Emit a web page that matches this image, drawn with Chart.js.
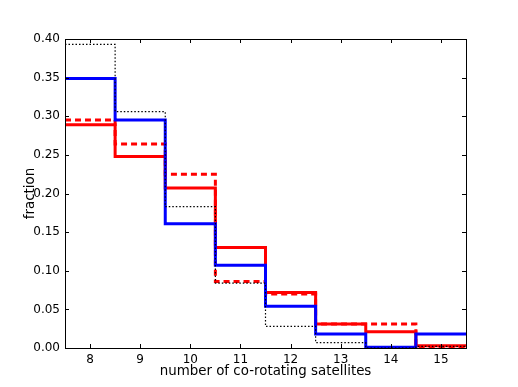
<!DOCTYPE html>
<html>
<head>
<meta charset="utf-8">
<script src="https://cdn.jsdelivr.net/npm/chart.js"></script>
<style>
  html, body { margin: 0; padding: 0; background: #fff; }
  #wrap { width: 518px; height: 387px; }
</style>
</head>
<body>
<div id="wrap"><canvas id="chart-hist"></canvas></div>
<script>
// bin centres and histogram fractions
const bins = [8, 9, 10, 11, 12, 13, 14, 15]
const blueSolid = [0.349, 0.295, 0.161, 0.107, 0.054, 0.018, 0.001, 0.018]
const redSolid = [0.289, 0.248, 0.207, 0.130, 0.072, 0.031, 0.021, 0.003]
const redDashed = [0.295, 0.264, 0.225, 0.086, 0.070, 0.031, 0.031, 0.002]
const blackDotted = [0.393, 0.306, 0.183, 0.084, 0.028, 0.007, 0.000, 0.002]
const xTicks = [8, 9, 10, 11, 12, 13, 14, 15]
const yTicks = [0, 0.05, 0.10, 0.15, 0.20, 0.25, 0.30, 0.35, 0.40]

// step outline: a point at each left bin edge, plus the closing right edge
function stepPoints(values) {
    const pts = bins.map((b, i) => ({ x: b - 0.5, y: values[i] }))
    pts.push({ x: bins[bins.length - 1] + 0.5, y: values[values.length - 1] })
    return pts
}

const frameTicks = {
    id: 'frameTicks',
    afterDatasetsDraw(chart) {
        const { ctx, chartArea: a, scales: { x, y } } = chart
        ctx.save()
        ctx.strokeStyle = '#000'
        ctx.lineWidth = 1
        ctx.beginPath()
        xTicks.forEach(v => {
            const px = Math.round(x.getPixelForValue(v)) + 0.5
            ctx.moveTo(px, a.bottom); ctx.lineTo(px, a.bottom - 4)
            ctx.moveTo(px, a.top); ctx.lineTo(px, a.top + 4)
        })
        yTicks.forEach(v => {
            const py = Math.round(y.getPixelForValue(v)) + 0.5
            ctx.moveTo(a.left, py); ctx.lineTo(a.left + 4, py)
            ctx.moveTo(a.right, py); ctx.lineTo(a.right - 4, py)
        })
        ctx.stroke()
        ctx.strokeRect(Math.round(a.left) + 0.5, Math.round(a.top) + 0.5,
            Math.round(a.right - a.left), Math.round(a.bottom - a.top))
        ctx.restore()
    }
}

Chart.defaults.font.family = 'DejaVu Sans'
Chart.defaults.color = '#000'
Chart.defaults.animation = false

const ctx = document.getElementById('chart-hist').getContext('2d')

new Chart(ctx, {
    type: 'line',
    data: {
        datasets: [{
            label: 'dotted',
            data: stepPoints(blackDotted),
            borderColor: '#000000',
            borderWidth: 1.2,
            borderDash: [1.5, 2],
            order: 0
        }, {
            label: 'blue',
            data: stepPoints(blueSolid),
            borderColor: '#0000ff',
            borderWidth: 3,
            order: 1
        }, {
            label: 'red dashed',
            data: stepPoints(redDashed),
            borderColor: '#ff0000',
            borderWidth: 3,
            borderDash: [6, 4],
            order: 2
        }, {
            label: 'red',
            data: stepPoints(redSolid),
            borderColor: '#ff0000',
            borderWidth: 3,
            order: 3
        }]
    },
    options: {
        responsive: true,
        maintainAspectRatio: false,
        layout: { padding: { top: 39, right: 52, left: 0, bottom: 0 } },
        elements: {
            line: { stepped: 'before', tension: 0, fill: false, borderCapStyle: 'butt', borderJoinStyle: 'miter' },
            point: { radius: 0, hoverRadius: 0 }
        },
        plugins: {
            legend: { display: false },
            tooltip: { enabled: false }
        },
        scales: {
            x: {
                type: 'linear',
                min: 7.5,
                max: 15.5,
                grid: { display: false, drawTicks: false },
                border: { display: false },
                afterBuildTicks: scale => { scale.ticks = xTicks.map(v => ({ value: v })) },
                afterFit: scale => { scale.height = 39 },
                ticks: { font: { size: 12 }, padding: 5, maxRotation: 0, autoSkip: false },
                title: {
                    display: true,
                    text: 'number of co-rotating satellites',
                    font: { size: 13.4 },
                    padding: { top: 0, bottom: 7 }
                }
            },
            y: {
                type: 'linear',
                min: 0,
                max: 0.4,
                grid: { display: false, drawTicks: false },
                border: { display: false },
                afterBuildTicks: scale => { scale.ticks = yTicks.map(v => ({ value: v })) },
                afterFit: scale => { scale.width = 65 },
                ticks: {
                    font: { size: 12 },
                    padding: 5,
                    autoSkip: false,
                    callback: value => value.toFixed(2)
                },
                title: {
                    display: true,
                    text: 'fraction',
                    font: { size: 13.4 },
                    padding: { top: 22, bottom: 0 }
                }
            }
        }
    },
    plugins: [frameTicks]
})
</script>
</body>
</html>
